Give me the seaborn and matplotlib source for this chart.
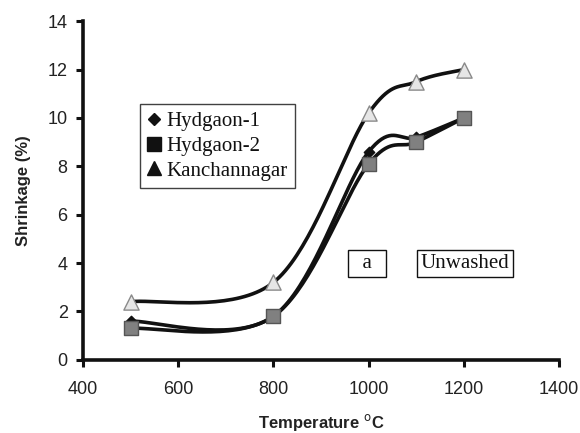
import numpy as np
import pandas as pd
import matplotlib
matplotlib.use("Agg")
import matplotlib.pyplot as plt
from matplotlib.lines import Line2D
import seaborn as sns

# Firing temperature (deg C) and linear shrinkage (%) of the unwashed clays
temperature = [500, 800, 1000, 1100, 1200]
hydgaon_1 = [1.6, 1.8, 8.6, 9.2, 10.0]
hydgaon_2 = [1.3, 1.8, 8.1, 9.0, 10.0]
kanchannagar = [2.4, 3.2, 10.2, 11.5, 12.0]

series_names = ["Hydgaon-1", "Hydgaon-2", "Kanchannagar"]
series_values = [hydgaon_1, hydgaon_2, kanchannagar]

x_ticks = [400, 600, 800, 1000, 1200, 1400]
y_ticks = [0, 2, 4, 6, 8, 10, 12, 14]
x_lim = (400, 1400)
y_lim = (0, 14)


def smooth_curve(xs, ys, n=40):
    """Bezier smoothing through every point (tension 1/6), computed in
    axis-normalised space so the curve shape follows the plotted aspect."""
    xs = np.asarray(xs, float)
    ys = np.asarray(ys, float)
    sx = (x_lim[1] - x_lim[0]) / 476.0
    sy = (y_lim[1] - y_lim[0]) / 339.0
    px, py = xs / sx, ys / sy
    pts = np.column_stack([px, py])
    out = []
    for i in range(len(pts) - 1):
        p0 = pts[i - 1] if i > 0 else pts[i]
        p1 = pts[i]
        p2 = pts[i + 1]
        p3 = pts[i + 2] if i + 2 < len(pts) else pts[i + 1]
        c1 = p1 + (p2 - p0) / 6.0
        c2 = p2 - (p3 - p1) / 6.0
        t = np.linspace(0, 1, n)[:, None]
        seg = ((1 - t) ** 3) * p1 + 3 * ((1 - t) ** 2) * t * c1 \
            + 3 * (1 - t) * t ** 2 * c2 + t ** 3 * p2
        out.append(seg if i == 0 else seg[1:])
    curve = np.vstack(out)
    return curve[:, 0] * sx, curve[:, 1] * sy


sns.set_theme(style="ticks")
plt.rcParams["font.family"] = ["Liberation Sans", "DejaVu Sans"]

fig = plt.figure(figsize=(5.8, 4.33), dpi=100)
ax = fig.add_axes([0.143, 0.169, 0.821, 0.782])

curve_rows = []
point_rows = []
for name, vals in zip(series_names, series_values):
    cx, cy = smooth_curve(temperature, vals)
    curve_rows.append(pd.DataFrame({"T": cx, "S": cy, "series": name,
                                    "order": np.arange(len(cx))}))
    point_rows.append(pd.DataFrame({"T": temperature, "S": vals, "series": name}))
curves = pd.concat(curve_rows, ignore_index=True)
points = pd.concat(point_rows, ignore_index=True)

# smoothed connecting lines, all black
for name in series_names:
    sub = curves[curves["series"] == name]
    sns.lineplot(data=sub, x="T", y="S", sort=False, estimator=None,
                 color="#111111", linewidth=2.6, ax=ax, legend=False, zorder=2)

marker_style = {
    "Hydgaon-1": dict(marker="D", s=28, color="#111111", edgecolor="#111111"),
    "Hydgaon-2": dict(marker="s", s=110, color="#808080", edgecolor="#555555"),
    "Kanchannagar": dict(marker="^", s=120, color="#e6e6e6", edgecolor="#8a8a8a"),
}
for name in series_names:
    sub = points[points["series"] == name]
    st = marker_style[name]
    sns.scatterplot(data=sub, x="T", y="S", marker=st["marker"], s=st["s"],
                    color=st["color"], edgecolor=st["edgecolor"], linewidth=1.0,
                    ax=ax, legend=False, zorder=3)

ax.set_xlim(*x_lim)
ax.set_ylim(*y_lim)
ax.set_xticks(x_ticks)
ax.set_yticks(y_ticks)
ax.tick_params(axis="both", labelsize=13, length=5, width=2.2,
               color="#111111", labelcolor="#222222", direction="out")
ax.tick_params(axis="x", pad=10)
ax.tick_params(axis="y", pad=6)
for side in ("top", "right"):
    ax.spines[side].set_visible(False)
for side in ("left", "bottom"):
    ax.spines[side].set_linewidth(2.6)
    ax.spines[side].set_color("#111111")
ax.patch.set_facecolor("white")

ax.set_xlabel("Temperature $^{\\mathrm{o}}$C", fontsize=12, fontweight="bold",
              color="#222222", labelpad=10)
ax.set_ylabel("Shrinkage (%)", fontsize=12, fontweight="bold",
              color="#222222", labelpad=12)

serif = ["Liberation Serif", "DejaVu Serif"]
handles = [
    Line2D([], [], linestyle="none", marker="D", markersize=6, color="#111111"),
    Line2D([], [], linestyle="none", marker="s", markersize=10, color="#111111"),
    Line2D([], [], linestyle="none", marker="^", markersize=10, color="#111111"),
]
leg = ax.legend(handles, series_names, loc="upper left",
                bbox_to_anchor=(0.120, 0.755), frameon=True, fancybox=False,
                prop={"family": serif, "size": 15}, handlelength=0.6,
                handletextpad=0.3, borderpad=0.35, labelspacing=0.25,
                borderaxespad=0)
leg.get_frame().set_edgecolor("#111111")
leg.get_frame().set_linewidth(1.0)
for t in leg.get_texts():
    t.set_color("#111111")

box = dict(boxstyle="square,pad=0.18", facecolor="white", edgecolor="#111111",
           linewidth=1.0)
ax.text(996, 3.99, "  a  ", family=serif, fontsize=15, color="#111111",
        ha="center", va="center", bbox=box)
ax.text(1202, 3.99, "Unwashed", family=serif, fontsize=15, color="#111111",
        ha="center", va="center", bbox=box)

fig.savefig("out.png", dpi=100, facecolor="white")
